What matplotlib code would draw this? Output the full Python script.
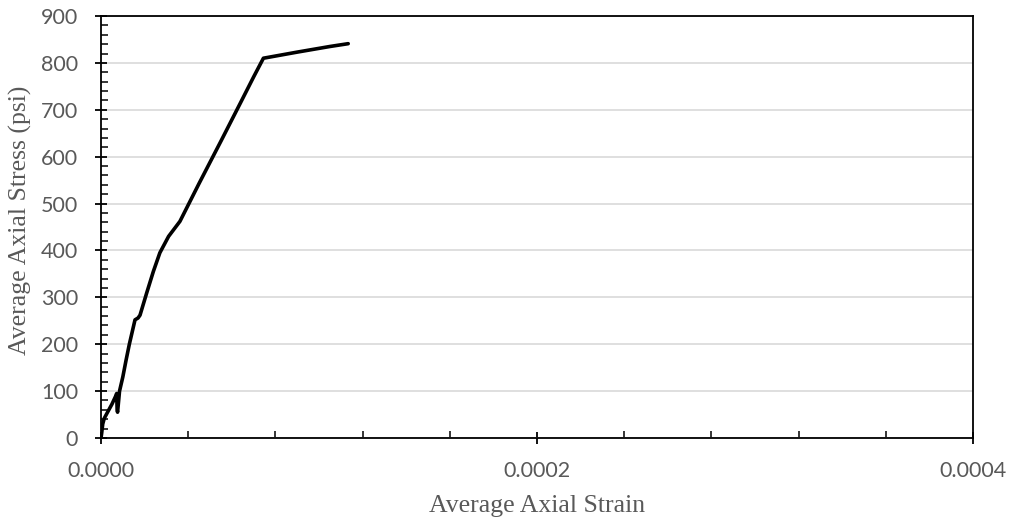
import numpy as np
import matplotlib.pyplot as plt
from matplotlib.ticker import MultipleLocator, FormatStrFormatter

# strain (in/in) and stress (psi)
strain = [0.0, 0.3e-6, 0.8e-6, 1.5e-6, 3.0e-6, 5.0e-6, 6.8e-6, 7.2e-6, 7.4e-6, 7.6e-6,
          8.5e-6, 10.0e-6, 11.5e-6, 13.0e-6, 15.6e-6, 17.0e-6, 17.9e-6, 21.0e-6,
          24.0e-6, 27.0e-6, 31.0e-6, 36.2e-6, 45.0e-6, 55.0e-6,
          64.0e-6, 70.0e-6, 74.5e-6, 90.0e-6, 105.0e-6, 113.4e-6]
stress = [0, 10, 30, 42, 55, 72, 90, 95, 60, 55,
          100, 130, 166, 200, 252, 256, 262, 310,
          355, 395, 430, 462, 543, 633,
          715, 770, 810, 823, 835, 841]

x_ticks = [0.0, 0.0002, 0.0004]

plt.rcParams['font.family'] = ['Lato', 'DejaVu Sans']

fig = plt.figure(figsize=(10.11, 5.25), dpi=100)
ax = fig.add_axes([0.0999, 0.1657, 0.8625, 0.8038])

ax.plot(strain, stress, color='black', linewidth=2.6, solid_capstyle='round',
        solid_joinstyle='round', zorder=3)

ax.set_xlim(0, 0.0004)
ax.set_ylim(0, 900)
ax.set_xticks(x_ticks)
ax.xaxis.set_major_formatter(FormatStrFormatter('%.4f'))
ax.xaxis.set_minor_locator(MultipleLocator(0.00004))
ax.yaxis.set_major_locator(MultipleLocator(100))
ax.yaxis.set_minor_locator(MultipleLocator(20))

ax.grid(axis='y', which='major', color='#d9d9d9', linewidth=1.2, zorder=0)
ax.set_axisbelow(True)

for s in ['top', 'right', 'left', 'bottom']:
    ax.spines[s].set_linewidth(1.3)
    ax.spines[s].set_color('black')

ax.tick_params(which='major', direction='inout', length=9, width=1.3, colors='black',
               labelcolor='#595959', labelsize=15.5)
ax.tick_params(which='minor', direction='in', length=5, width=1.1, colors='black')
ax.tick_params(axis='x', which='major', pad=12)
ax.tick_params(axis='y', which='major', pad=12)

# axis titles in a Times-like serif
ax.set_xlabel('Average Axial Strain', family='Liberation Serif', fontsize=18.5, color='#595959')
ax.set_ylabel('Average Axial Stress (psi)', family='Liberation Serif', fontsize=18.5, color='#595959')
ax.xaxis.set_label_coords(0.5, -0.135)
ax.yaxis.set_label_coords(-0.079, 0.515)

fig.savefig('out.png', dpi=100)
